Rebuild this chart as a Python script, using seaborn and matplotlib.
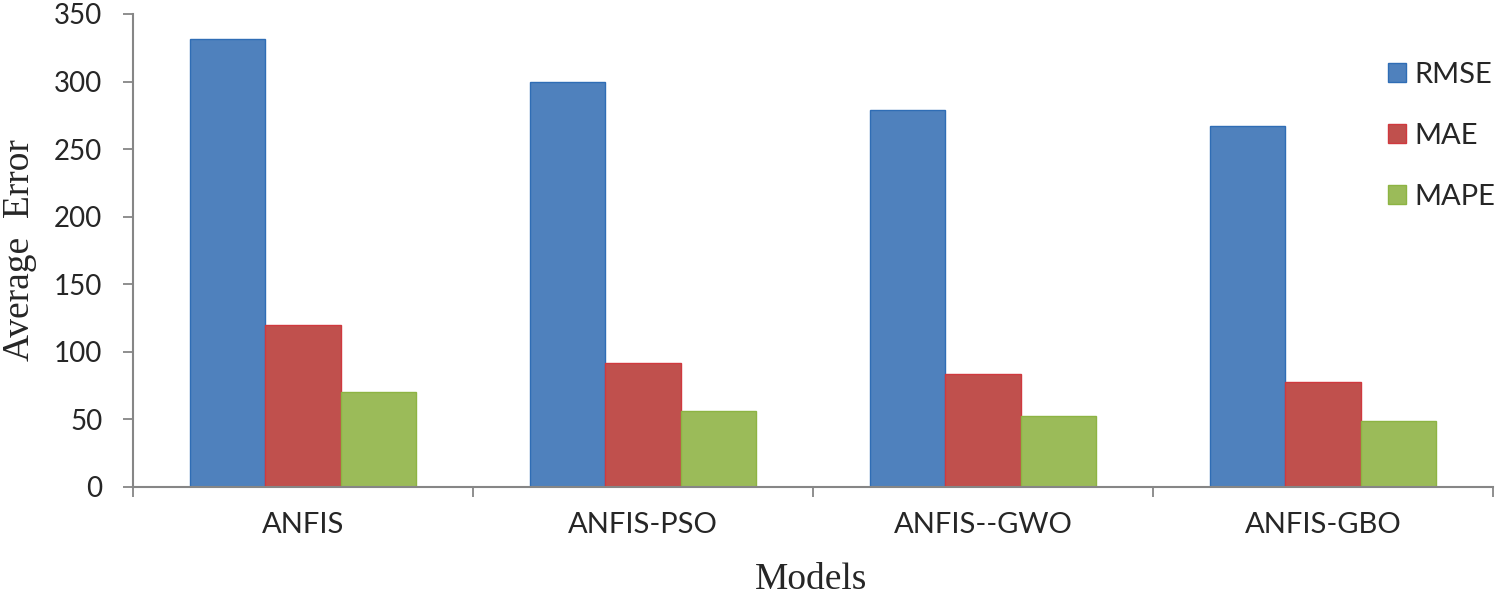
"""
Average error of the ANFIS models (RMSE, MAE, MAPE)
"""
import pandas as pd
import matplotlib.pyplot as plt
import seaborn as sns
from matplotlib.patches import Patch
from matplotlib.ticker import FixedLocator

models = ['ANFIS', 'ANFIS-PSO', 'ANFIS--GWO', 'ANFIS-GBO']
metrics = ['RMSE', 'MAE', 'MAPE']
rmse = [331.2, 299.3, 279.2, 267.3]
mae = [119.9, 91.6, 83.6, 77.6]
mape = [70.2, 56.2, 52.8, 48.9]

face_colors = ['#4F81BD', '#C0504D', '#9BBB59']
edge_colors = ['#2F6DB5', '#D0393E', '#8DB443']

# long form table for seaborn
df = pd.DataFrame({
    'model': models * 3,
    'metric': [m for m in metrics for _ in models],
    'value': rmse + mae + mape,
})

sns.set_style("white")
plt.rcParams['font.family'] = ['Lato', 'DejaVu Sans']

fig = plt.figure(figsize=(15, 5.99), dpi=100)
ax = fig.add_axes([0.0887, 0.187, 0.9066, 0.7897])

sns.barplot(data=df, x='model', y='value', hue='metric', order=models,
            hue_order=metrics, palette=face_colors, width=0.667, gap=0,
            saturation=1, errorbar=None, ax=ax, legend=False)

for cont, ec in zip(ax.containers, edge_colors):
    for bar in cont:
        bar.set_edgecolor(ec)
        bar.set_linewidth(1.0)

ax.set_xlim(-0.5, len(models) - 0.5)
ax.set_ylim(0, 350)
ax.set_yticks(range(0, 351, 50))
ax.tick_params(axis='y', direction='out', length=7, width=1.3, color='#868686',
               pad=15, labelsize=20, left=True)
ax.tick_params(axis='x', which='major', length=0, pad=18, labelsize=21)
ax.xaxis.set_minor_locator(FixedLocator([i - 0.5 for i in range(len(models) + 1)]))
ax.tick_params(axis='x', which='minor', direction='out', length=7, width=1.3,
               color='#868686', bottom=True)

sns.despine(ax=ax)
for side in ['left', 'bottom']:
    ax.spines[side].set_color('#868686')
    ax.spines[side].set_linewidth(1.5)

ax.set_xlabel('')
ax.set_ylabel('')
fig.text(0.0135, 0.583, 'Average  Error', rotation=90, ha='center', va='center',
         family='Liberation Serif', fontsize=27)
fig.text(0.541, 0.032, 'Models', ha='center', va='center',
         family='Liberation Serif', fontsize=27)

handles = [Patch(facecolor=f, edgecolor=e, linewidth=1.0) for f, e in zip(face_colors, edge_colors)]
fig.legend(handles, metrics, loc='upper left', bbox_to_anchor=(0.9253, 0.897),
           frameon=False, fontsize=21, handlelength=0.62, handleheight=0.62,
           handletextpad=0.3, labelspacing=1.2, borderpad=0, borderaxespad=0)

plt.savefig('out.png', dpi=100)
plt.close()
